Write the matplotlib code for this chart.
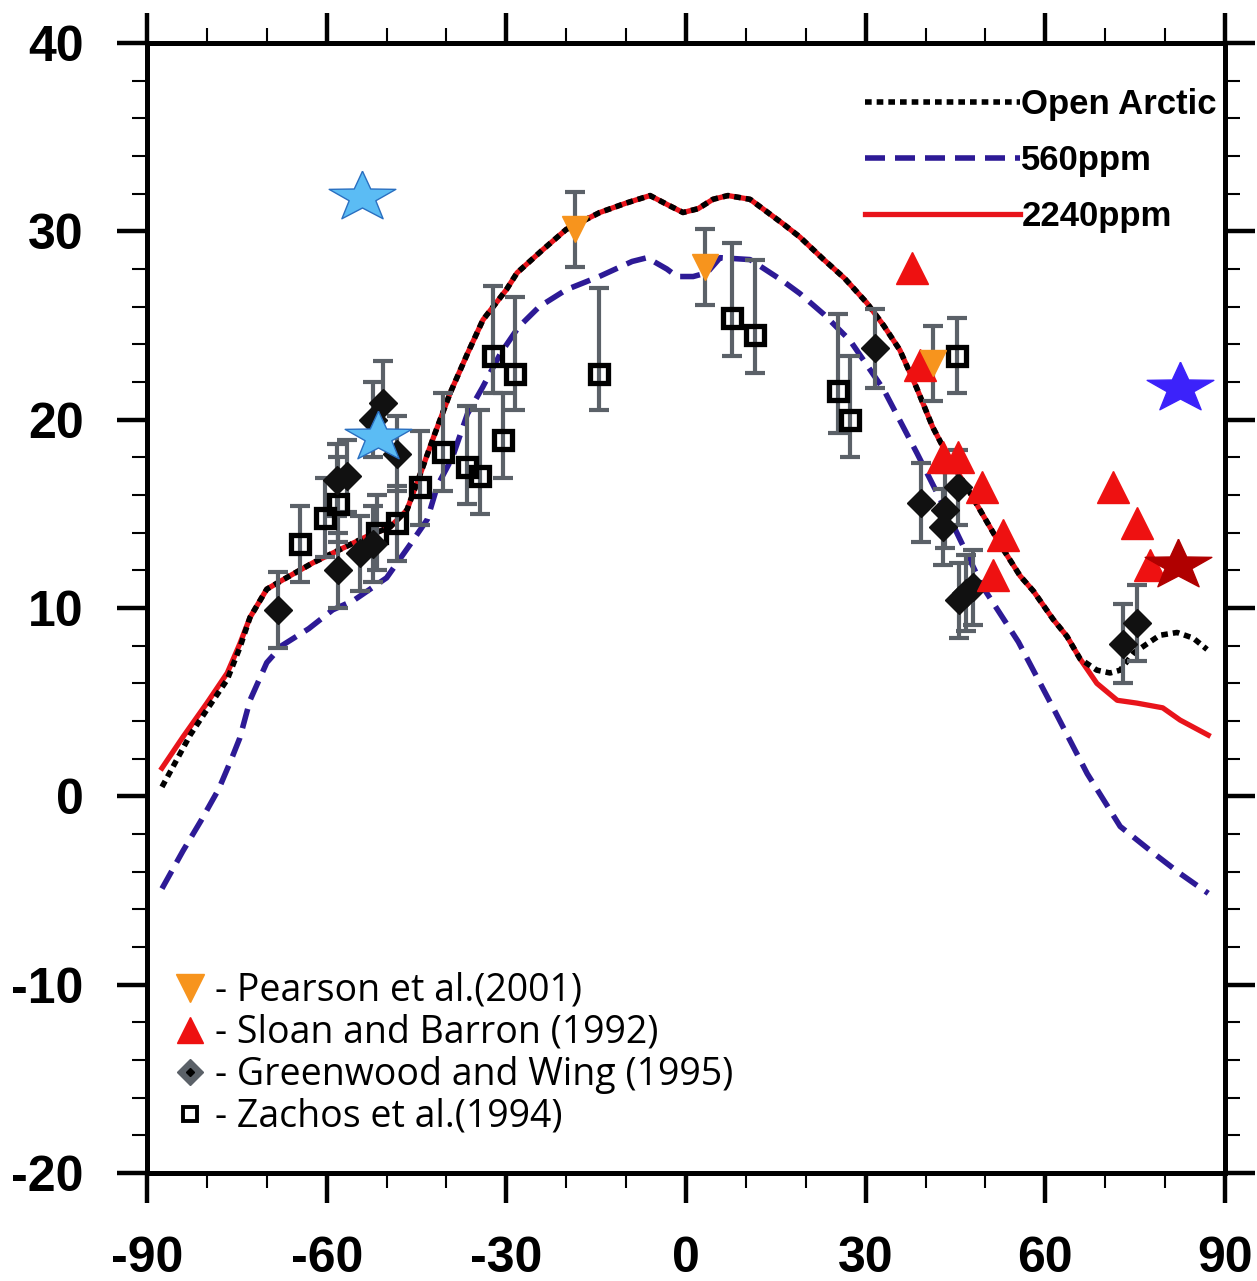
import numpy as np
import matplotlib.pyplot as plt
from matplotlib.path import Path
from matplotlib.lines import Line2D
from matplotlib.ticker import MultipleLocator

plt.rcParams['axes.unicode_minus'] = False

# ---- model curves: latitude vs surface temperature ----
lat_open = [-87.5, -85.7, -82.8, -80, -76.6, -74.5, -72.8, -70, -67.3, -62.3, -57.8, -53.3,
            -49.4, -46.6, -44.5, -42, -39.4, -36.5, -33.9, -30, -28.2, -24, -20, -14.4, -10,
            -6, -3, -0.5, 2, 4.5, 7, 10.7, 16.2, 19, 23, 26.5, 30.2, 33, 35.7, 38.5, 41.2, 44,
            46.9, 52.4, 55.8, 58, 61.3, 63.6, 65.8, 68.6, 70.8, 72.5, 74.7, 77, 79.1, 82, 84.7, 87]
t_open = [0.5, 1.55, 3.25, 4.6, 6.2, 7.9, 9.5, 11.0, 11.5, 12.4, 13.1, 13.8,
          14.3, 15.2, 17.0, 19.2, 21.4, 23.5, 25.3, 26.9, 27.8, 29.0, 30.1, 31.0, 31.5,
          31.9, 31.4, 31.0, 31.2, 31.7, 31.9, 31.7, 30.4, 29.7, 28.5, 27.5, 26.2, 25.0, 23.7, 21.7, 19.6, 17.9,
          16.4, 13.4, 11.7, 10.9, 9.4, 8.5, 7.3, 6.7, 6.55, 6.7, 7.6, 8.1, 8.55, 8.7, 8.4, 7.8]

lat_560 = [-87.5, -84, -81, -78, -76, -74.5, -72.8, -70, -67.5, -63, -59, -55.5, -50, -46,
           -43.2, -41.5, -39, -36.5, -34, -31, -28, -24.5, -20, -14.5, -9, -6.5, -3.2, -1.5,
           1.2, 3.5, 5.7, 10.7, 16, 19, 23, 27.4, 33, 38.6, 44, 49.6, 55.5, 61.3, 67, 72.5,
           78, 82.5, 87.2]
t_560 = [-4.9, -2.9, -1.3, 0.4, 1.9, 3.1, 5.1, 7.1, 8.0, 8.9, 9.9, 10.4, 11.6, 13.4,
         14.7, 16.5, 18.0, 20.3, 21.7, 23.5, 24.9, 26.0, 26.9, 27.6, 28.4, 28.6, 28.0, 27.6,
         27.6, 27.8, 28.6, 28.5, 27.4, 26.7, 25.6, 24.2, 21.6, 18.2, 14.8, 11.1, 8.2, 4.7, 1.2, -1.6,
         -3.0, -4.1, -5.15]

lat_2240 = [-87.5, -84, -80, -76.6, -74.5, -72.8, -70, -67.3, -62.3, -57.8, -53.3, -49.4,
            -46.6, -44.5, -42, -39.4, -36.5, -33.9, -30, -28.2, -24, -20, -14.4, -10, -6, -3,
            -0.5, 2, 4.5, 7, 10.7, 16.2, 19, 23, 26.5, 30.2, 33, 35.7, 38.5, 41.2, 44, 46.9,
            52.4, 55.8, 58, 61.3, 63.6, 65.8, 68.6, 72, 75.3, 79.6, 82.5, 87.2]
t_2240 = [1.5, 3.15, 4.95, 6.55, 8.1, 9.5, 11.0, 11.5, 12.4, 13.1, 13.8, 14.3,
          15.2, 17.0, 19.2, 21.4, 23.5, 25.3, 26.9, 27.8, 29.0, 30.1, 31.0, 31.5, 31.9, 31.4,
          31.0, 31.2, 31.7, 31.9, 31.7, 30.4, 29.7, 28.5, 27.5, 26.2, 25.0, 23.7, 21.7, 19.6, 17.9, 16.4,
          13.4, 11.7, 10.9, 9.4, 8.5, 7.3, 6.0, 5.1, 4.95, 4.7, 4.05, 3.25]

# ---- proxy data ----
pearson_lat = [-18.5, 3.2, 41.2]
pearson_t = [30.1, 28.1, 23.0]
pearson_err = [2.0, 2.0, 2.0]

sloan_lat = [37.7, 39.1, 42.9, 45.4, 49.4, 52.9, 51.3, 71.3, 75.3, 77.5]
sloan_t = [28.05, 22.9, 18.0, 18.0, 16.4, 13.9, 11.75, 16.4, 14.5, 12.3]

green_lat = [-68.2, -58.3, -56.6, -58.1, -54.4, -52.3, -52.3, -50.6, -48.3,
             31.5, 39.2, 42.9, 43.2, 45.4, 45.6, 46.8, 47.9, 73.0, 75.3]
green_t = [9.9, 16.8, 17.0, 12.0, 12.9, 13.4, 20.0, 20.9, 18.2,
           23.8, 15.6, 14.3, 15.2, 16.4, 10.4, 10.8, 11.1, 8.1, 9.2]
green_err = [2.0, 1.9, 1.9, 2.0, 2.0, 2.0, 2.0, 2.2, 2.0,
             2.1, 2.1, 2.0, 2.0, 2.0, 2.0, 2.0, 2.0, 2.1, 2.0]

zachos_lat = [-64.5, -60.3, -58.1, -51.6, -48.3, -44.4, -40.6, -36.6, -34.4, -32.2, -30.6,
              -28.6, -14.5, 7.7, 11.5, 25.4, 27.4, 45.2]
zachos_t = [13.4, 14.8, 15.5, 14.0, 14.5, 16.4, 18.3, 17.5, 17.0, 23.4, 18.9,
            22.4, 22.4, 25.4, 24.5, 21.5, 20.0, 23.4]
zachos_lo = [2.0, 2.1, 2.0, 2.0, 2.0, 2.0, 2.1, 2.0, 2.0, 2.0, 2.0,
             1.9, 1.9, 2.0, 2.0, 2.2, 2.0, 2.0]
zachos_hi = [2.0, 2.1, 2.5, 2.0, 2.0, 3.0, 3.1, 3.2, 3.5, 3.7, 2.5,
             4.1, 4.6, 4.0, 4.0, 4.1, 3.4, 2.0]

# highlighted values (stars)
star_lat = [-54.1, -51.4, 82.5, 82.2]
star_t = [31.8, 19.1, 21.7, 12.3]

# ---- figure ----
fig = plt.figure(figsize=(12.57, 12.81), dpi=100)
ax = fig.add_axes([147 / 1257, 108 / 1281, 1078 / 1257, 1130 / 1281])

l560, = ax.plot(lat_560, t_560, color='#2d1a96', lw=4, dashes=(3.6, 1.8),
                label='560ppm', zorder=2)
l2240, = ax.plot(lat_2240, t_2240, color='#e8141b', lw=3.8, label='2240ppm', zorder=2.1)
lopen, = ax.plot(lat_open, t_open, color='black', lw=4, dashes=(1.2, 0.9),
                 label='Open Arctic', zorder=2.2)

eb = dict(fmt='none', ecolor='#5b6168', elinewidth=3, capsize=7, capthick=3, zorder=3)
ax.errorbar(zachos_lat, zachos_t, yerr=[zachos_lo, zachos_hi], **eb)
ax.errorbar(green_lat, green_t, yerr=green_err, **eb)
ax.errorbar(pearson_lat, pearson_t, yerr=pearson_err, **eb)

ax.plot(zachos_lat, zachos_t, 's', ms=13.5, mfc='none', mec='black', mew=3.8, zorder=4)
ax.plot(green_lat, green_t, 'D', ms=14, color='#111111', zorder=5)
ax.plot(sloan_lat, sloan_t, '^', ms=23, color='#ee1111', zorder=6)
ax.plot(pearson_lat, pearson_t, 'v', ms=19, color='#f7941d', zorder=7)

# slightly flattened five-point star
star_verts = Path.unit_regular_star(5, 0.4).vertices * [1.0, 0.75]
star_face = ['#5bbcf4', '#5bbcf4', '#3c22fa', '#b00000']
star_edge = ['#2a6fc0', '#2a6fc0', '#3c22fa', '#b00000']
for lat, t, fc, ec in zip(star_lat, star_t, star_face, star_edge):
    ax.plot(lat, t, marker=star_verts, ms=48, mfc=fc, mec=ec, mew=1, ls='none', zorder=8)

# axes styling
ax.set_xlim(-90, 90)
ax.set_ylim(-20, 40)
ax.xaxis.set_major_locator(MultipleLocator(30))
ax.xaxis.set_minor_locator(MultipleLocator(10))
ax.yaxis.set_major_locator(MultipleLocator(10))
ax.yaxis.set_minor_locator(MultipleLocator(2))
ax.tick_params(which='both', direction='out', top=True, right=True,
               labeltop=False, labelright=False)
ax.tick_params(which='major', length=21.6, width=3.2, pad=24, labelsize=36)
ax.tick_params(which='minor', length=10.8, width=1.5)
for sp in ax.spines.values():
    sp.set_linewidth(3.6)
for lab in ax.get_xticklabels() + ax.get_yticklabels():
    lab.set_fontfamily('Liberation Sans')
    lab.set_fontweight('bold')

# model legend (top right)
leg1 = ax.legend(handles=[lopen, l560, l2240], loc='upper right',
                 bbox_to_anchor=(0.9926, 0.96), frameon=False, borderpad=0,
                 borderaxespad=0, handlelength=4.45, handletextpad=0.05,
                 labelspacing=0.66,
                 prop={'family': 'Liberation Sans', 'weight': 'bold', 'size': 25})
ax.add_artist(leg1)

# proxy legend (bottom left)
h_p = Line2D([], [], ls='none', marker='v', ms=20, color='#f7941d')
h_s = Line2D([], [], ls='none', marker='^', ms=19, color='#ee1111')
h_g = (Line2D([], [], ls='none', marker='D', ms=13, color='#5b6168'),
       Line2D([], [], ls='none', marker='D', ms=4.5, color='black'))
h_z = Line2D([], [], ls='none', marker='s', ms=9.5, mfc='none', mec='black', mew=2.8)
ax.legend([h_p, h_s, h_g, h_z],
          ['- Pearson et al.(2001)', '- Sloan and Barron (1992)',
           '- Greenwood and Wing (1995)', '- Zachos et al.(1994)'],
          loc='upper left', bbox_to_anchor=(0.0218, 0.178), frameon=False,
          borderpad=0, borderaxespad=0, handlelength=1.05, handletextpad=0.14,
          labelspacing=0.105, prop={'family': 'Open Sans', 'size': 27})

fig.savefig('out.png', dpi=100)
